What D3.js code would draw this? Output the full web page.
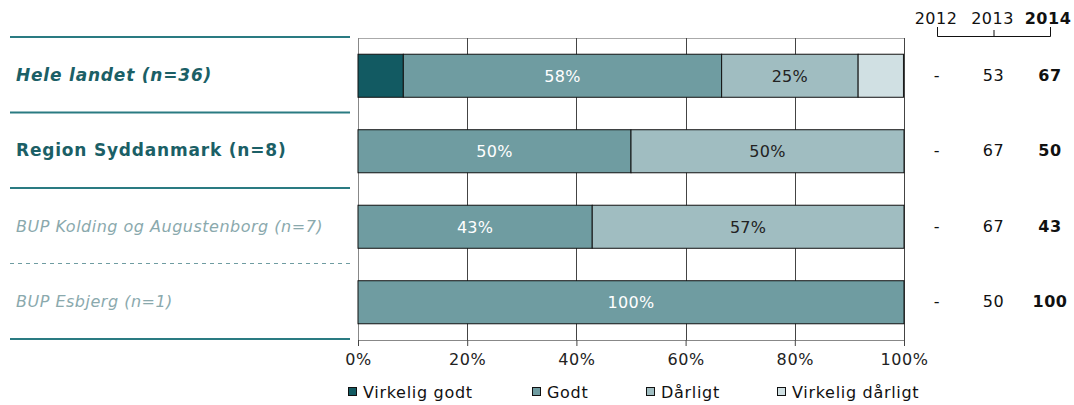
<!DOCTYPE html>
<html><head><meta charset="utf-8">
<script src="https://cdn.jsdelivr.net/npm/d3@7"></script>
<style>body{margin:0;background:#fff}svg{display:block;font-family:"DejaVu Sans",Verdana,sans-serif}</style>
</head><body><svg id="c" width="1074" height="405"></svg>
<script>
const categories = ["Hele landet (n=36)", "Region Syddanmark (n=8)", "BUP Kolding og Augustenborg (n=7)", "BUP Esbjerg (n=1)"];
const seriesNames = ["Virkelig godt", "Godt", "Dårligt", "Virkelig dårligt"];
const virkeligGodt = [8.3, 0, 0, 0];
const godt = [58.3, 50, 42.9, 100];
const daarligt = [25.0, 50, 57.1, 0];
const virkeligDaarligt = [8.3, 0, 0, 0];
const years = ["2012", "2013", "2014"];
const y2012 = ["-", "-", "-", "-"];
const y2013 = ["53", "67", "67", "50"];
const y2014 = ["67", "50", "43", "100"];
const xTicks = [0, 20, 40, 60, 80, 100];

const colors = ["#125a62", "#6f9ca1", "#a0bdc1", "#d0e0e3"];
const labelColors = ["#ffffff", "#ffffff", "#222222", "#222222"];
const catStyles = [
  {weight:"bold", style:"italic", fill:"#1b5f66", size:17, ls:0.8},
  {weight:"bold", style:"normal", fill:"#1b5f66", size:17, ls:0.8},
  {weight:"normal", style:"italic", fill:"#8aa9ad", size:16, ls:0.5},
  {weight:"normal", style:"italic", fill:"#8aa9ad", size:16, ls:0.5}
];

const svg = d3.select("#c");
const x = d3.scaleLinear().domain([0, 100]).range([358, 904]);
const y = d3.scaleBand().domain(categories).range([38, 340]).paddingInner(0.43).paddingOuter(0.215);
const band = d3.scaleBand().domain(categories).range([37, 339]);

const data = categories.map((c, i) => ({cat: c, v: [virkeligGodt[i], godt[i], daarligt[i], virkeligDaarligt[i]]}));
const stack = d3.stack().keys([0,1,2,3]).value((d, k) => d.v[k]);
const series = stack(data);

// plot frame top
svg.append("line").attr("x1", x(0)).attr("x2", x(100)).attr("y1", 38.5).attr("y2", 38.5).attr("stroke", "#aaa");

// gridlines
svg.append("g").selectAll("line").data(xTicks).join("line")
  .attr("x1", d => Math.round(x(d)) + 0.5).attr("x2", d => Math.round(x(d)) + 0.5)
  .attr("y1", 38).attr("y2", 340).attr("stroke", d => d === 0 ? "#888" : "#444").attr("stroke-width", 1);

// bars
series.forEach((s, k) => {
  svg.append("g").selectAll("rect").data(s.filter(d => d[1] - d[0] > 0)).join("rect")
    .attr("x", d => x(d[0])).attr("width", d => x(d[1]) - x(d[0]))
    .attr("y", d => y(d.data.cat)).attr("height", y.bandwidth())
    .attr("fill", colors[k]).attr("stroke", "#111").attr("stroke-width", 1);
  svg.append("g").selectAll("text").data(s.filter(d => d[1] - d[0] >= 10)).join("text")
    .attr("x", d => (x(d[0]) + x(d[1])) / 2).attr("y", d => y(d.data.cat) + y.bandwidth() / 2)
    .attr("dy", "0.36em").attr("text-anchor", "middle").attr("font-size", 16).attr("letter-spacing", 0.3)
    .attr("fill", labelColors[k]).text(d => Math.round(d[1] - d[0]) + "%");
});

// x axis
const xAxis = d3.axisBottom(x).tickValues(xTicks).tickFormat(d => d + "%").tickSize(6).tickPadding(8);
const gx = svg.append("g").attr("transform", "translate(0,340)").call(xAxis);
gx.select(".domain").attr("stroke", "#888");
gx.selectAll(".tick line").attr("stroke", "#444");
gx.selectAll("text").attr("font-size", 16).attr("letter-spacing", 0.6).attr("fill", "#222").attr("font-family", "DejaVu Sans");

// left separators
const seps = [37, 112.5, 188, 263.5, 339];
svg.append("g").selectAll("line").data(seps).join("line")
  .attr("x1", 10).attr("x2", 350).attr("y1", d => d).attr("y2", d => d)
  .attr("stroke", (d, i) => i === 3 ? "#6f9ca1" : "#2a7b82").attr("stroke-width", (d, i) => i === 3 ? 1 : 2)
  .attr("stroke-dasharray", (d, i) => i === 3 ? "4,4" : null);

// category labels
svg.append("g").selectAll("text").data(categories).join("text")
  .attr("x", 16).attr("y", d => band(d) + band.bandwidth() / 2).attr("dy", "0.36em")
  .attr("font-size", (d, i) => catStyles[i].size).attr("font-weight", (d, i) => catStyles[i].weight)
  .attr("font-style", (d, i) => catStyles[i].style).attr("fill", (d, i) => catStyles[i].fill)
  .attr("letter-spacing", (d, i) => catStyles[i].ls)
  .text(d => d);

// year columns
const colX = d3.scalePoint().domain(years).range([937, 1050]);
svg.append("g").selectAll("text").data(years).join("text")
  .attr("x", (d, i) => colX(d) - (i === 2 ? 2 : 1)).attr("y", 24).attr("text-anchor", "middle").attr("font-size", 16)
  .attr("letter-spacing", 0.5)
  .attr("font-weight", (d, i) => i === 2 ? "bold" : "normal").attr("fill", "#111").text(d => d);
svg.append("path")
  .attr("d", `M${colX("2012")+0.5},27V36.5H${colX("2014")+0.5}V27M${colX("2013")+0.5},30V36.5`)
  .attr("fill", "none").attr("stroke", "#111");
const yearVals = [y2012, y2013, y2014];
yearVals.forEach((vals, j) => {
  svg.append("g").selectAll("text").data(categories).join("text")
    .attr("x", colX(years[j])).attr("y", d => band(d) + band.bandwidth() / 2).attr("dy", "0.36em")
    .attr("text-anchor", "middle").attr("font-size", 16).attr("letter-spacing", 0.5)
    .attr("font-weight", j === 2 ? "bold" : "normal").attr("fill", "#111")
    .text((d, i) => vals[i]);
});

// legend
const legX = [348, 532, 646, 777];
const lg = svg.append("g").selectAll("g").data(seriesNames).join("g")
  .attr("transform", (d, i) => `translate(${legX[i]},392)`);
lg.append("rect").attr("x", 0.5).attr("y", -4.5).attr("width", 8).attr("height", 8)
  .attr("fill", (d, i) => colors[i]).attr("stroke", "#111");
lg.append("text").attr("x", 15).attr("dy", "0.36em").attr("font-size", 16).attr("letter-spacing", 0.7)
  .attr("fill", "#111").text(d => d);
</script></body></html>
